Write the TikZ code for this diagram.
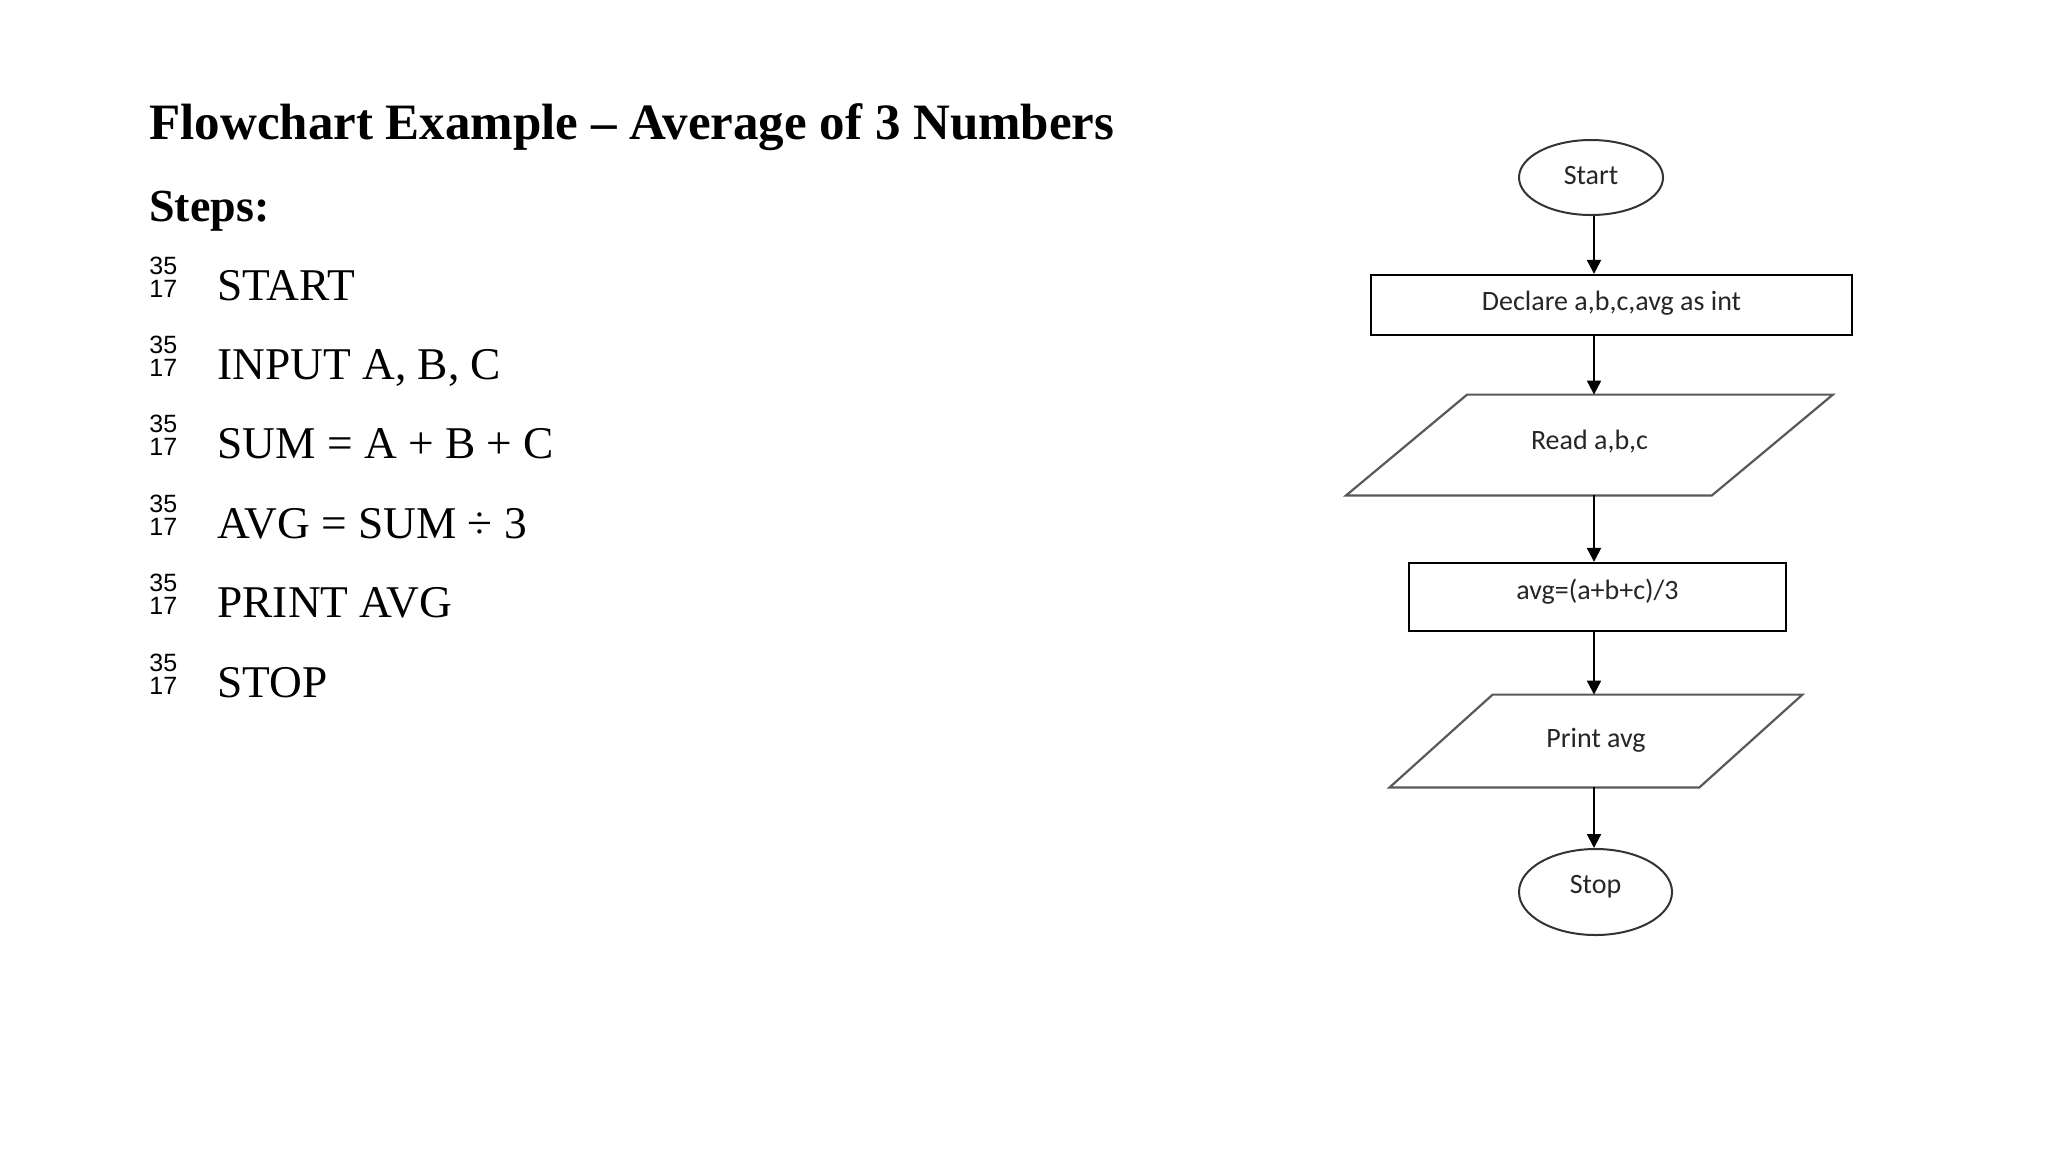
\documentclass[tikz,border=0pt]{standalone}
\usepackage{fontspec}
\setmainfont{Liberation Serif}
\newfontfamily\fcfont{Carlito}
\newfontfamily\bulfont{Liberation Sans}
\usetikzlibrary{shapes.geometric,arrows.meta}
\begin{document}
\begin{tikzpicture}[x=0.5pt,y=-0.5pt,
  titletext/.style={anchor=base west,inner sep=0pt,font=\fontsize{25.5pt}{30pt}\selectfont\bfseries},
  stepstext/.style={anchor=base west,inner sep=0pt,font=\fontsize{23pt}{28pt}\selectfont\bfseries},
  itemtext/.style={anchor=base west,inner sep=0pt,font=\fontsize{22.7pt}{27pt}\selectfont},
  bultext/.style={anchor=base west,inner sep=0pt,font=\bulfont\fontsize{12.5pt}{14pt}\selectfont},
  fcfontstyle/.style={font=\fcfont\fontsize{14pt}{16pt}\selectfont,text=black!85,text height=9.5pt},
  procbox/.style={draw,rectangle,line width=1.1pt,inner sep=0pt,fcfontstyle},
  termbox/.style={draw=black!80,ellipse,line width=1pt,inner sep=0pt,fcfontstyle},
  iobox/.style={rectangle,inner sep=0pt,fcfontstyle},
  iopath/.style={draw=black!65,line width=1.1pt,line join=miter},
  arr/.style={line width=1pt,-{Triangle[width=7pt,length=7pt]}}]
\fill[white] (0,0) rectangle (2048,1152);
\useasboundingbox (0,0) rectangle (2048,1152);

% left text
\node[titletext] (title) at (149,139) {Flowchart Example – Average of 3 Numbers};
\node[stepstext] (steps) at (149,221) {Steps:};
\foreach \t [count=\i] in {{START},{INPUT A, B, C},{SUM = A + B + C},{AVG = SUM ÷ 3},{PRINT AVG},{STOP}}{
  \pgfmathsetmacro{\yb}{300+(\i-1)*79.4}
  \node[itemtext] (item\i) at (217,\yb) {\t};
  \node[bultext] (bulA\i) at (149,\yb-26) {35};
  \node[bultext] (bulB\i) at (149,\yb-3) {17};
}

% flowchart
\node[termbox,minimum width=72pt,minimum height=37.5pt,text depth=3pt] (start) at (1591,177.5) {Start};
\node[procbox,minimum width=240.5pt,minimum height=30pt,text depth=4.5pt] (declare) at (1611.5,305) {Declare a,b,c,avg as int};
\node[iobox,minimum width=182.5pt,minimum height=50pt,text depth=5.5pt] (read) at (1589.5,445) {Read a,b,c};
\draw[iopath] ([xshift=30.25pt]read.north west) -- ([xshift=30.25pt]read.north east)
  -- ([xshift=-30.25pt]read.south east) -- ([xshift=-30.25pt]read.south west) -- cycle;
\node[procbox,minimum width=188.5pt,minimum height=34pt,text depth=7.5pt] (avg) at (1597.5,597) {avg=(a+b+c)/3};
\node[iobox,minimum width=154.5pt,minimum height=46pt,text depth=3.5pt] (print) at (1596,741) {Print avg};
\draw[iopath] ([xshift=25.75pt]print.north west) -- ([xshift=25.75pt]print.north east)
  -- ([xshift=-25.75pt]print.south east) -- ([xshift=-25.75pt]print.south west) -- cycle;
\node[termbox,minimum width=76.5pt,minimum height=43pt,text depth=8.5pt] (stop) at (1595.5,892) {Stop};

\coordinate (col) at (1594,0);
\draw[arr] (start.south -| col) -- (declare.north -| col);
\draw[arr] (declare.south -| col) -- (read.north -| col);
\draw[arr] (read.south -| col) -- (avg.north -| col);
\draw[arr] (avg.south -| col) -- (print.north -| col);
\draw[arr] (print.south -| col) -- (stop.north -| col);
\end{tikzpicture}
\end{document}
